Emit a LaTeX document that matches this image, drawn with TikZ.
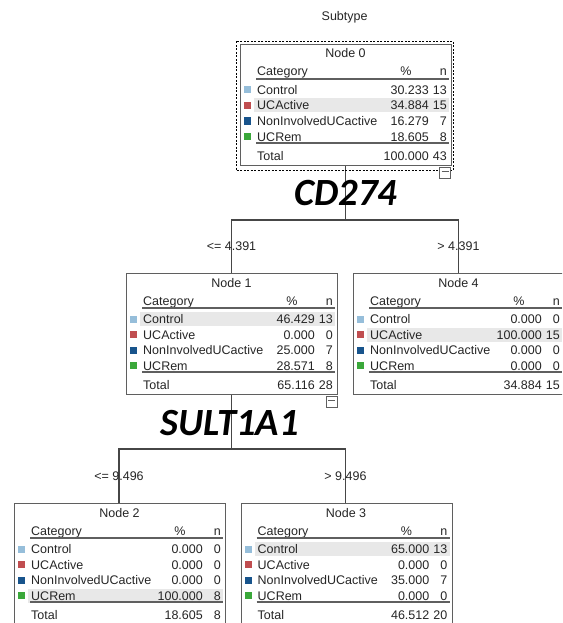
\documentclass[tikz,border=0pt]{standalone}
\usepackage{fontspec}
\setmainfont{Liberation Sans}
\newfontfamily\genefont{Carlito}
\definecolor{ctrlc}{RGB}{150,190,218}
\definecolor{actc}{RGB}{192,78,80}
\definecolor{nonc}{RGB}{24,84,140}
\definecolor{remc}{RGB}{58,168,58}
\definecolor{txtc}{RGB}{38,38,38}
\definecolor{boxc}{RGB}{95,95,95}
\definecolor{hlc}{RGB}{232,232,232}
\definecolor{connc}{RGB}{70,70,70}
\tikzset{
  nodebox/.style={draw=boxc, line width=1.2pt, anchor=north west, minimum width=211pt, minimum height=121pt, inner sep=0pt},
  celltext/.style={font=\fontsize{12.5}{14}\selectfont, text=txtc, inner sep=0pt},
  sqnode/.style={minimum size=7pt, inner sep=0pt},
  rulel/.style={draw=boxc, line width=1.3pt},
  conn/.style={draw=connc, line width=1.3pt},
  brlbl/.style={font=\fontsize{12.5}{14}\selectfont, text=txtc, inner sep=0pt},
  genelbl/.style={font=\genefont\bfseries\itshape\fontsize{38.5}{40}\selectfont, text=black, inner sep=0pt},
  selbox/.style={draw=black, line width=0.9pt, dash pattern=on 2pt off 1.5pt},
  minusbox/.style={draw=boxc, fill=white, line width=0.9pt}
}
% #1 name, #2 x, #3 y, #4 node number, #5 highlighted row, #6 pct/n list (4 rows + total)
\newcommand{\spssnode}[6]{%
  \begin{scope}[shift={(#2,#3)}]
    \pgfmathsetmacro{\hly}{46+15.5*(#5-1)}
    \fill[hlc] (14,\hly-7) rectangle (209,\hly+7);
    \node[nodebox] (#1) at (0,0) {};
    \node[celltext, anchor=base] (#1-title) at (105.5,14) {Node #4};
    \node[celltext, anchor=base west] (#1-hc) at (17,32) {Category};
    \node[celltext, anchor=base] (#1-hp) at (166,32) {\%};
    \node[celltext, anchor=base east] (#1-hn) at (207,32) {n};
    \draw[rulel] (16,35) -- (209,35);
    \draw[rulel] (16,99) -- (209,99);
    \foreach \p/\n [count=\i] in {#6} {
      \pgfmathsetmacro{\by}{ifthenelse(\i<5,50.5+15.5*(\i-1),116)}
      \ifnum\i<5
        \edef\rowcol{\ifcase\i\or ctrlc\or actc\or nonc\or remc\fi}
        \node[sqnode, fill=\rowcol] (#1-sq\i) at (7.5,\by-4.5) {};
      \fi
      \node[celltext, anchor=base west] (#1-lab\i) at (17,\by)
        {\ifcase\i\or Control\or UCActive\or NonInvolvedUCactive\or UCRem\or Total\fi};
      \node[celltext, anchor=base east] (#1-pct\i) at (189,\by) {\p};
      \node[celltext, anchor=base east] (#1-n\i) at (207,\by) {\n};
    }
  \end{scope}}
\begin{document}
\begin{tikzpicture}[x=1pt,y=-1pt]
  \clip (0,0) rectangle (562,623);
  \fill[white] (0,0) rectangle (562,623);
  \node[celltext, anchor=base west] (title) at (321.5,21) {Subtype};

  % connectors first
  \coordinate (j0) at (345.5,220);
  \coordinate (j1) at (231.5,449);
  \coordinate (n0b) at (345.5,165);
  \coordinate (n1t) at (231.5,273);
  \coordinate (n4t) at (458.5,273);
  \coordinate (n1b) at (231.5,395);
  \coordinate (n2t) at (119,503);
  \coordinate (n3t) at (345.5,503);
  \draw[conn] (n0b) -- (j0);
  \draw[conn] (n1t) |- (j0) -| (n4t);
  \draw[conn] (n1b) -- (j1);
  \draw[conn] (n2t) |- (j1) -| (n3t);

  \spssnode{n0}{240}{44}{0}{2}{30.233/13,34.884/15,16.279/7,18.605/8,100.000/43}
  \spssnode{n1}{126}{273}{1}{1}{46.429/13,0.000/0,25.000/7,28.571/8,65.116/28}
  \spssnode{n4}{353}{273}{4}{2}{0.000/0,100.000/15,0.000/0,0.000/0,34.884/15}
  \spssnode{n2}{14}{503}{2}{4}{0.000/0,0.000/0,0.000/0,100.000/8,18.605/8}
  \spssnode{n3}{240.5}{503}{3}{1}{65.000/13,0.000/0,35.000/7,0.000/0,46.512/20}

  % selection frame and collapse boxes
  \draw[selbox] (236,41.5) rectangle (453,170.5);
  \draw[minusbox] (439.5,167.5) rectangle (450.5,178) coordinate (m0);
  \draw[draw=boxc, line width=0.9pt] (441.5,171.5) -- (448.5,171.5);
  \draw[minusbox] (326,396.5) rectangle (337,407) coordinate (m1);
  \draw[draw=boxc, line width=0.9pt] (328,400.5) -- (335,400.5);

  % branch labels
  \node[brlbl] (b1) at (231.5,246.5) {<= 4.391};
  \node[brlbl] (b4) at (458.5,246.5) {> 4.391};
  \node[brlbl] (b2) at (119,476) {<= 9.496};
  \node[brlbl] (b3) at (345.5,476) {> 9.496};

  % split variables
  \node[genelbl] (g0) at (346,193.5) {CD274};
  \node[genelbl] (g1) at (229.7,423) {SULT1A1};
\end{tikzpicture}
\end{document}
